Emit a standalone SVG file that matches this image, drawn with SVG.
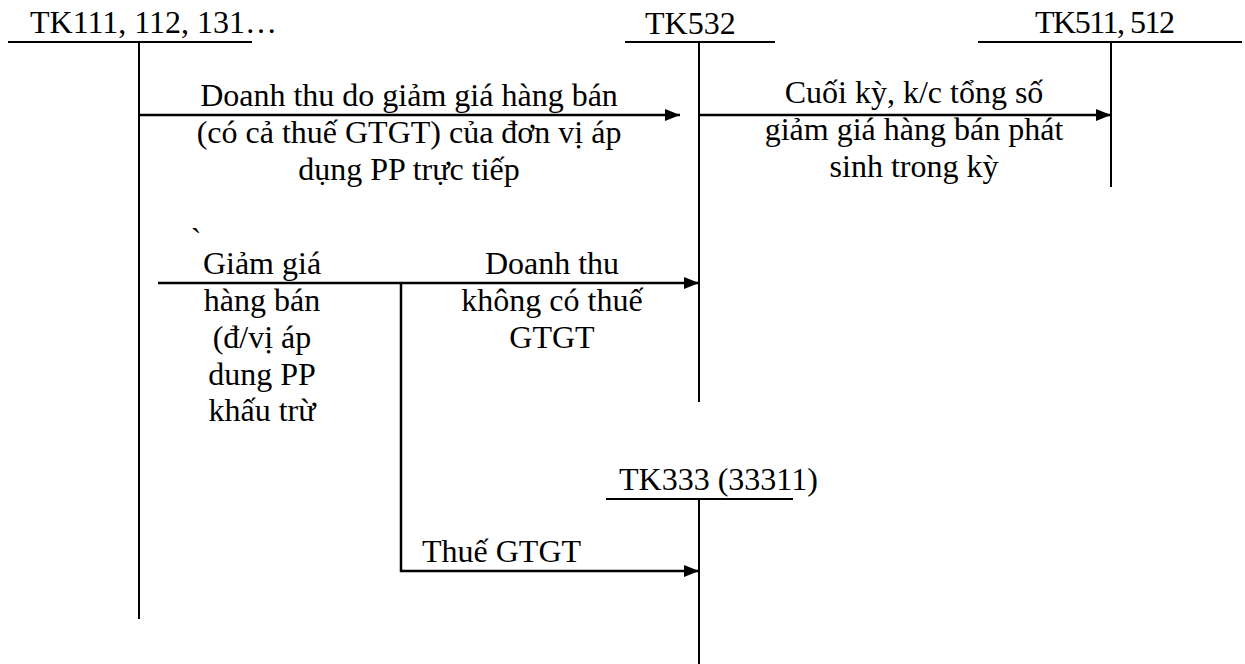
<svg xmlns="http://www.w3.org/2000/svg" width="1245" height="664" viewBox="0 0 1245 664">
  <style>
    text { font-family: "Liberation Serif", "Times New Roman", serif; font-size: 32px; fill: #000; }
    .mid { text-anchor: middle; }
    .rule { stroke: #000; stroke-width: 2; fill: none; }
    .flow { stroke: #000; stroke-width: 2.5; fill: none; }
    .arrow { marker-end: url(#head); }
  </style>
  <defs>
    <marker id="head" viewBox="0 0 15 12" refX="15" refY="6" markerWidth="15" markerHeight="12" markerUnits="userSpaceOnUse" orient="auto">
      <path d="M0,0 L15,6 L0,12 z" fill="#000"/>
    </marker>
  </defs>
  <rect width="1245" height="664" fill="#fff"/>

  <!-- T-accounts: header rule, account name, vertical split -->
  <g id="tk111">
    <line class="rule" x1="8" y1="42" x2="252" y2="42"/>
    <line class="rule" x1="139" y1="42" x2="139" y2="619"/>
    <text x="30" y="33">TK111, 112, 131…</text>
  </g>
  <g id="tk532">
    <line class="rule" x1="625" y1="42" x2="775" y2="42"/>
    <line class="rule" x1="699" y1="42" x2="699" y2="402"/>
    <text x="645" y="34">TK532</text>
  </g>
  <g id="tk511">
    <line class="rule" x1="978" y1="42" x2="1242" y2="42"/>
    <line class="rule" x1="1111" y1="42" x2="1111" y2="187"/>
    <text x="1035" y="33" textLength="140">TK511, 512</text>
  </g>
  <g id="tk333">
    <line class="rule" x1="606" y1="499" x2="793" y2="499"/>
    <line class="rule" x1="699" y1="499" x2="699" y2="664"/>
    <text x="619" y="490">TK333 (33311)</text>
  </g>

  <!-- Entries between accounts -->
  <g id="connectors">
    <line class="flow arrow" x1="139" y1="115" x2="680" y2="115"/>
    <line class="flow arrow" x1="699" y1="115" x2="1111" y2="115"/>
    <line class="flow arrow" x1="158" y1="283" x2="699" y2="283"/>
    <polyline class="flow arrow" points="401,283 401,571 699,571"/>
  </g>

  <!-- Entry descriptions -->
  <g id="labels">
    <text class="mid" x="409" y="106">Doanh thu do giảm giá hàng bán</text>
    <text class="mid" x="409" y="143">(có cả thuế GTGT) của đơn vị áp</text>
    <text class="mid" x="409" y="180">dụng PP trực tiếp</text>

    <text class="mid" x="914" y="103">Cuối kỳ, k/c tổng số</text>
    <text class="mid" x="914" y="140">giảm giá hàng bán phát</text>
    <text class="mid" x="914" y="177">sinh trong kỳ</text>

    <text class="mid" x="196" y="250">`</text>

    <text class="mid" x="262" y="274">Giảm giá</text>
    <text class="mid" x="262" y="311">hàng bán</text>
    <text class="mid" x="262" y="348">(đ/vị áp</text>
    <text class="mid" x="262" y="385">dung PP</text>
    <text class="mid" x="262" y="421">khấu trừ</text>

    <text class="mid" x="552" y="274">Doanh thu</text>
    <text class="mid" x="552" y="311">không có thuế</text>
    <text class="mid" x="552" y="348">GTGT</text>

    <text x="422" y="562">Thuế GTGT</text>
  </g>
</svg>
